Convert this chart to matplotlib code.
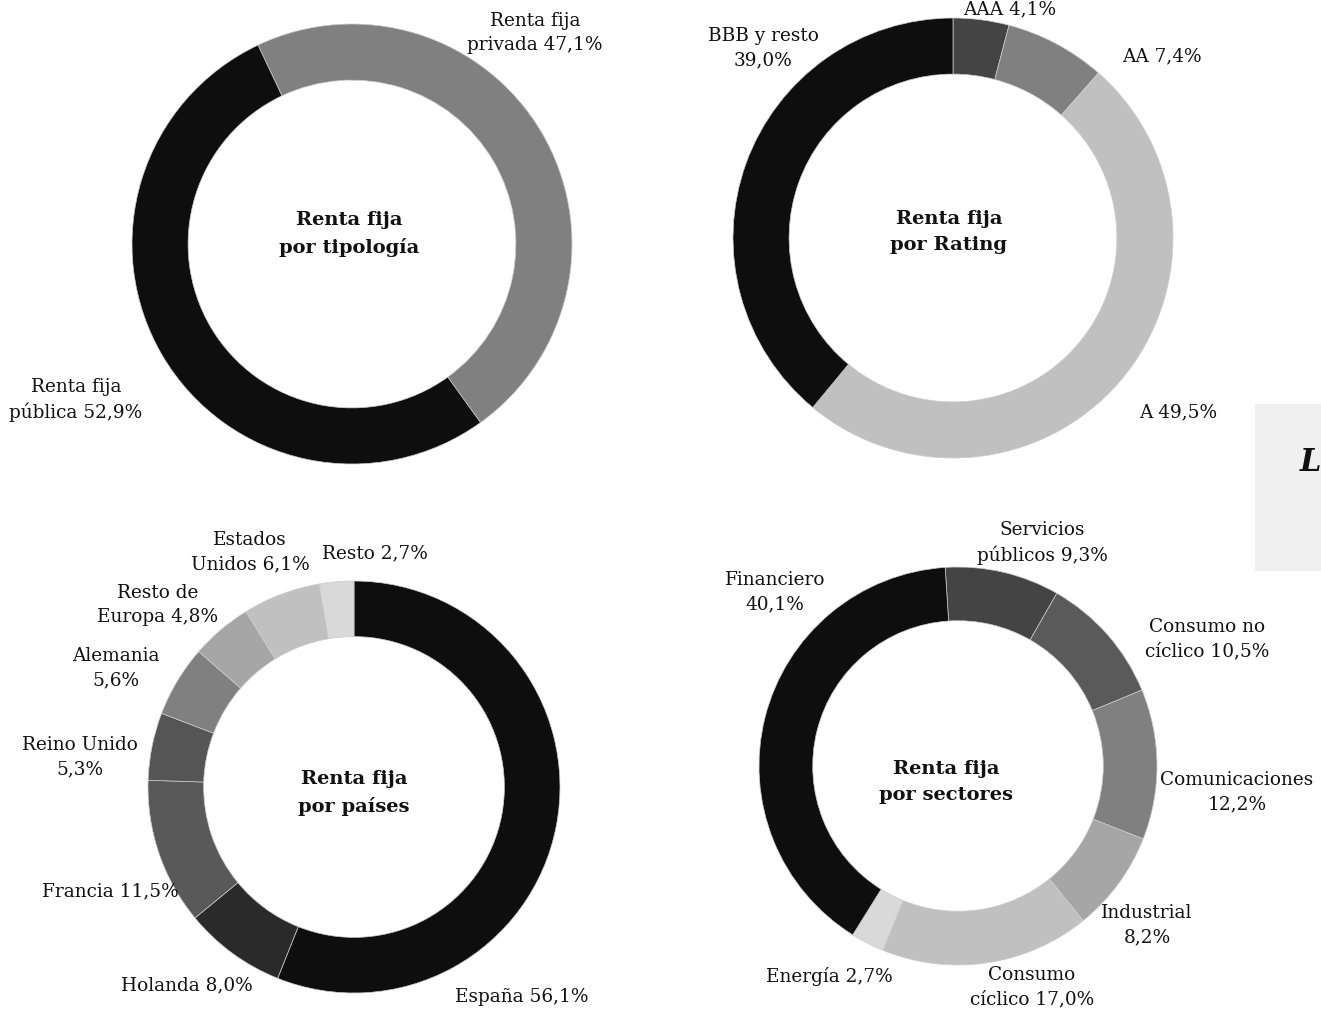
import matplotlib.pyplot as plt

W, H = 1321, 1013

# --- data ---
tipologia_labels = ['Renta fija\nprivada 47,1%', 'Renta fija\npública 52,9%']
tipologia_values = [47.1, 52.9]

rating_labels = ['AAA 4,1%', 'AA 7,4%', 'A 49,5%', 'BBB y resto\n39,0%']
rating_values = [4.1, 7.4, 49.5, 39.0]

paises_labels = ['España 56,1%', 'Holanda 8,0%', 'Francia 11,5%', 'Reino Unido\n5,3%',
                 'Alemania\n5,6%', 'Resto de\nEuropa 4,8%', 'Estados\nUnidos 6,1%', 'Resto 2,7%']
paises_values = [56.1, 8.0, 11.5, 5.3, 5.6, 4.8, 6.1, 2.7]

sectores_labels = ['Servicios\npúblicos 9,3%', 'Consumo no\ncíclico 10,5%', 'Comunicaciones\n12,2%',
                   'Industrial\n8,2%', 'Consumo\ncíclico 17,0%', 'Energía 2,7%', 'Financiero\n40,1%']
sectores_values = [9.3, 10.5, 12.2, 8.2, 17.0, 2.7, 40.1]

# --- styling / layout (pixel coords, y from top) ---
charts = [
    dict(values=tipologia_values, labels=tipologia_labels,
         title='Renta fija\npor tipología', center=(352, 244), r=220, ring=0.255, start=115.3,
         colors=['#808080', '#0e0e0e'],
         label_pos=[(535, 33), (76, 400)], title_pos=(349, 234)),
    dict(values=rating_values, labels=rating_labels,
         title='Renta fija\npor Rating', center=(953, 238), r=220, ring=0.255, start=90,
         colors=['#444444', '#808080', '#c0c0c0', '#0e0e0e'],
         label_pos=[(1010, 9), (1162, 56), (1178, 412), (763, 48)], title_pos=(949, 232)),
    dict(values=paises_values, labels=paises_labels,
         title='Renta fija\npor países', center=(354, 787), r=206, ring=0.27, start=90,
         colors=['#0e0e0e', '#2a2a2a', '#595959', '#555555', '#808080',
                 '#a6a6a6', '#c0c0c0', '#d9d9d9'],
         label_pos=[(522, 997), (187, 985), (110, 891), (80, 757), (116, 668),
                    (158, 605), (250, 552), (375, 553)], title_pos=(354, 793)),
    dict(values=sectores_values, labels=sectores_labels,
         title='Renta fija\npor sectores', center=(958, 766), r=199, ring=0.27, start=93.7,
         colors=['#444444', '#5a5a5a', '#808080', '#a6a6a6', '#c0c0c0', '#d9d9d9', '#0e0e0e'],
         label_pos=[(1042, 543), (1207, 639), (1237, 792), (1147, 925), (1032, 987),
                    (829, 976), (775, 592)], title_pos=(946, 782)),
]

FONT = 'DejaVu Serif'

fig = plt.figure(figsize=(W / 100, H / 100), dpi=100)
ax = fig.add_axes([0, 0, 1, 1])

for c in charts:
    cx, cy = c['center']
    ax.pie(c['values'], colors=c['colors'], startangle=c['start'], counterclock=False,
           center=(cx, H - cy), radius=c['r'],
           wedgeprops=dict(width=c['r'] * c['ring'], edgecolor='#cccccc', linewidth=0.5))
    for lab, (lx, ly) in zip(c['labels'], c['label_pos']):
        ax.text(lx, H - ly, lab, ha='center', va='center', multialignment='center',
                fontsize=13.3, family=FONT, color='#111111', linespacing=1.42)
    tx, ty = c['title_pos']
    ax.text(tx, H - ty, c['title'], ha='center', va='center', multialignment='center',
            fontsize=14, family=FONT, fontweight='bold', color='#111111', linespacing=1.6)

# side box cut by the right edge
ax.add_patch(plt.Rectangle((1255, H - 571), 80, 167, facecolor='#f0f0f0', edgecolor='none', zorder=0))
ax.text(1300, H - 462, 'L', fontsize=22, family=FONT, fontweight='bold', style='italic',
        ha='left', va='center', color='#111111')

ax.set_xlim(0, W)
ax.set_ylim(0, H)
ax.set_aspect('equal')
ax.axis('off')

plt.savefig('out.png', dpi=100)
